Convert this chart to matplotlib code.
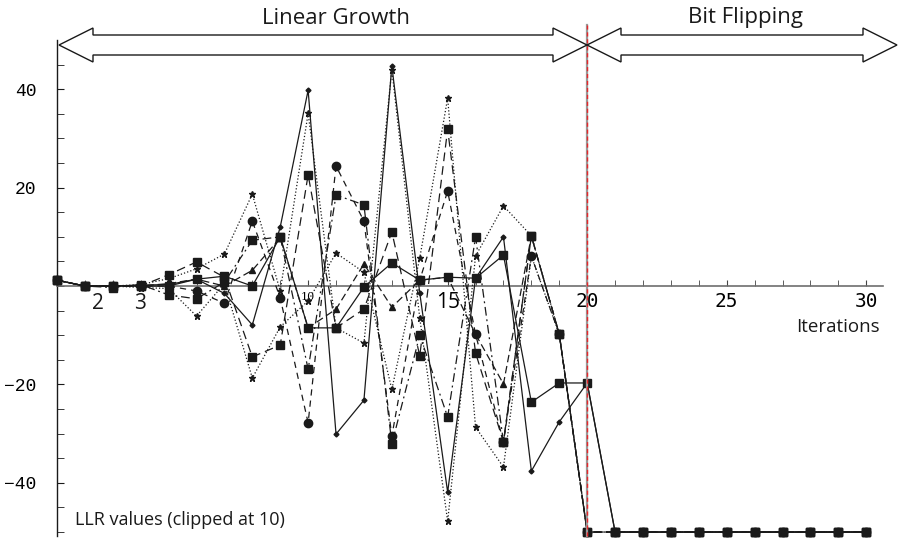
"""
LLR trajectories over decoder iterations
"""
import numpy as np
import matplotlib
matplotlib.use('Agg')
import matplotlib.pyplot as plt
from matplotlib.patches import Polygon

iterations = list(range(1, 31))
tail = [-50] * 10

llr_a = [1.2, 0, 0, 0.2, 0.3, 1.4, -1.5, -7.9, 12, 39.8, -30.1, -23.2, 44.7, -1.4, -41.9,
         1.6, 10, -37.6, -27.6, -19.7] + tail
llr_b = [1.2, 0, 0, 0.3, 1.5, 3.5, 6.5, 18.7, -1, 35.1, -8.5, -11.6, 44.0, -6.5, -47.8,
         6.1, 16.3, 10.2, -9.8, -50] + tail
llr_c = [1.2, 0, 0, -0.3, -0.5, -6.1, 0.5, -18.7, -8.3, -3, 6.7, 2.8, -21, 5.7, 38.2,
         -28.7, -36.8, 6.1, -9.8, -50] + tail
llr_d = [1.2, 0, 0, 0, 2.3, 4.9, 1.8, -14.4, -12, 22.6, -8.5, -4.7, 11, -14.2, 31.9,
         -13.6, -31.7, 10.2, -9.8, -50] + tail
llr_e = [1.2, 0, -0.3, 0.3, -1.8, -2.6, 0.8, 9.3, 10, -16.9, 18.5, 16.5, -32.1, -10, -26.6,
         10, -31.7, 10.2, -9.8, -50] + tail
llr_f = [1.2, 0, 0, 0, 0, 1.4, 2, 0, 10, -8.5, -8.5, -0.2, 4.7, 1.2, 1.8,
         1.6, 6.3, -23.6, -19.7, -19.7] + tail
llr_g = [1.2, 0, 0, 0, 0, -1, -3.5, 13.2, -2.4, -27.8, 24.4, 13.2, -30.5, 1.2, 19.3,
         -9.8, -31.7, 6.1, -9.8, -50] + tail
llr_h = [1.2, 0, 0, 0, 0.5, 1.4, 0, 3.2, 9.8, -8.5, -4.7, 4.5, -4.3, 1.2, 1.8,
         -9.8, -19.9, 10.2, -9.8, -50] + tail

x_tick_pos = [5, 10, 15, 20, 25, 30]
x_tick_lbl = ['5', '10', '15', '20', '25', '30']
y_tick_pos = [-40, -20, 20, 40]

INK = '#1a1a1a'


def double_arrow(fig, x0, x1, yc, head_len=34, head_half=17, shaft_half=10):
    """block double arrow, pixel coords measured from top-left"""
    W, H = 900, 542
    pts = [
        (x0, yc),
        (x0 + head_len, yc - head_half),
        (x0 + head_len, yc - shaft_half),
        (x1 - head_len, yc - shaft_half),
        (x1 - head_len, yc - head_half),
        (x1, yc),
        (x1 - head_len, yc + head_half),
        (x1 - head_len, yc + shaft_half),
        (x0 + head_len, yc + shaft_half),
        (x0 + head_len, yc + head_half),
    ]
    pts = [(x / W, (H - y) / H) for x, y in pts]
    fig.patches.append(Polygon(pts, closed=True, facecolor='white', edgecolor=INK,
                               lw=1.0, transform=fig.transFigure, zorder=5))


def main():
    fig = plt.figure(figsize=(9, 5.42), dpi=100)
    ax = fig.add_axes([0.0633, 0.0111, 0.9178, 0.915])
    ax.set_xlim(1, 30.6)
    ax.set_ylim(-50.8, 50)

    styles = [
        (llr_a, '-', 'D', 2.5),
        (llr_b, ':', '*', 5),
        (llr_c, ':', '*', 5),
        (llr_d, (0, (7, 4)), 's', 5.5),
        (llr_e, (0, (7, 3, 1.5, 3)), 's', 5.5),
        (llr_f, '-', 's', 5.5),
        (llr_g, (0, (5, 4)), 'o', 6),
        (llr_h, (0, (6, 3)), '^', 4),
    ]
    for vals, ls, mk, ms in styles:
        ax.plot(iterations, vals, linestyle=ls, marker=mk, markersize=ms,
                color=INK, lw=0.9, clip_on=False, zorder=3)

    # axes like Mathematica
    for side in ('top', 'right'):
        ax.spines[side].set_visible(False)
    ax.spines['bottom'].set_position(('data', 0))
    ax.spines['bottom'].set_color('#6e6e6e')
    ax.spines['bottom'].set_linewidth(1.2)
    ax.spines['left'].set_color(INK)
    ax.spines['left'].set_linewidth(1.0)

    ax.set_xticks(x_tick_pos)
    ax.set_xticklabels(x_tick_lbl)
    ax.set_xticks(iterations, minor=True)
    ax.tick_params(axis='x', which='both', direction='in', length=4, color='#444444', pad=4)
    for lbl in ax.get_xticklabels():
        if lbl.get_text() in ('5', '10'):
            lbl.set_fontsize(8)
            lbl.set_family('DejaVu Serif')
        elif lbl.get_text() == '15':
            lbl.set_fontsize(15)
            lbl.set_family('Open Sans')
        else:
            lbl.set_fontsize(14)
            lbl.set_family('DejaVu Sans Mono')

    ax.set_yticks(y_tick_pos)
    ax.set_yticklabels(['\u221240', '\u221220', '20', '40'],
                       family='Liberation Mono', fontsize=13)
    ax.set_yticks(np.arange(-50, 50, 5), minor=True)
    ax.tick_params(axis='y', which='both', direction='in', length=5, color=INK, pad=15)

    # stray labels near the origin
    ax.text(2.47, -1.5, '2', ha='center', va='top', fontsize=15, family='Open Sans', color=INK)
    ax.text(3.97, -1.5, '3', ha='center', va='top', fontsize=15, family='Open Sans', color=INK)

    ax.text(29.0, -8.3, 'Iterations', ha='center', va='center', fontsize=13.5,
            family='Open Sans', color=INK)
    ax.text(1.65, -47.5, 'LLR values (clipped at 10)', ha='left', va='center',
            fontsize=13, family='Open Sans', color=INK)

    # phase boundary
    ax.plot([20, 20], [-50.8, 53], color='#9a9a9a', lw=1.6, clip_on=False, zorder=4)
    ax.plot([20, 20], [-50.8, 53], color='#e8262a', lw=1.0, ls=(0, (3, 2)),
            clip_on=False, zorder=4)

    double_arrow(fig, 59, 587, 45)
    double_arrow(fig, 587, 897, 45)
    fig.text(336 / 900, 1 - 18 / 542, 'Linear Growth', ha='center', va='center',
             fontsize=16, family='Open Sans', color=INK)
    fig.text(745 / 900, 1 - 18 / 542, 'Bit Flipping', ha='center', va='center',
             fontsize=16, family='Open Sans', color=INK)

    fig.savefig('out.png', dpi=100)


if __name__ == "__main__":
    main()
